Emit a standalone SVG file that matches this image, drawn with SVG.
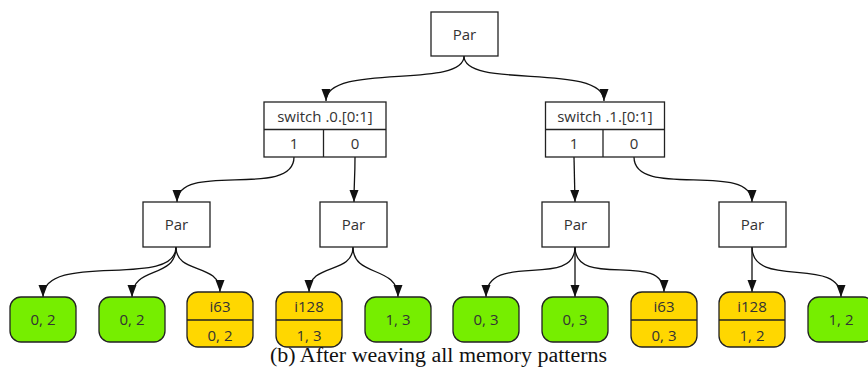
<svg xmlns="http://www.w3.org/2000/svg" width="868" height="370" viewBox="0 0 868 370">
<style>
.box{fill:#fff;stroke:#222;stroke-width:1.3}
.g{fill:#76ee00;stroke:#222;stroke-width:1.3}
.y{fill:#ffd700;stroke:#222;stroke-width:1.3}
.ln{stroke:#222;stroke-width:1.3;fill:none}
.t{font-family:"Open Sans","Liberation Sans",sans-serif;font-size:15px;fill:#333;text-anchor:middle}
.e{fill:none;stroke:#111;stroke-width:1.3;marker-end:url(#ah)}
.cap{font-family:"Liberation Serif",serif;font-size:20px;fill:#111}
</style>
<defs>
<marker id="ah" markerUnits="userSpaceOnUse" markerWidth="13" markerHeight="10" refX="12" refY="4.5" orient="auto">
<path d="M0,0 L12,4.5 L0,9 z" fill="#111"/>
</marker>
</defs>
<g id="connectors">
<path class="e" d="M464,56 C464,90 326,62 326,101"/>
<path class="e" d="M464,56 C464,90 604,62 604,101"/>
<path class="e" d="M294,157 C294,200 177,160 177,202"/>
<path class="e" d="M355,157 C355,180 354,180 354,202"/>
<path class="e" d="M574,157 L575,202"/>
<path class="e" d="M634,157 C634,200 752,160 752,202"/>
<path class="e" d="M176,247 C176,290 43,250 43,297"/>
<path class="e" d="M176,247 C176,280 132,265 132,297"/>
<path class="e" d="M176,247 C176,275 220,262 220,292"/>
<path class="e" d="M353,247 C353,275 309,262 309,292"/>
<path class="e" d="M353,247 C353,278 398,265 398,297"/>
<path class="e" d="M575,247 C575,290 486,250 486,297"/>
<path class="e" d="M575,247 L575,297"/>
<path class="e" d="M575,247 C575,290 664,250 664,292"/>
<path class="e" d="M752,247 L752,292"/>
<path class="e" d="M752,247 C752,290 841,255 841,297"/>
</g>
<g id="par_top"><rect class="box" x="431" y="12" width="67" height="44"/><text class="t" x="464.5" y="39.5">Par</text></g>
<g id="switch0">
<rect class="box" x="264" y="102" width="122" height="55"/>
<line class="ln" x1="264" y1="129.5" x2="386" y2="129.5"/>
<line class="ln" x1="323.5" y1="129.5" x2="323.5" y2="157"/>
<text class="t" x="325" y="121.5">switch .0.[0:1]</text>
<text class="t" x="294" y="149">1</text>
<text class="t" x="355" y="149">0</text>
</g>
<g id="switch1">
<rect class="box" x="545.5" y="102" width="119" height="55"/>
<line class="ln" x1="545.5" y1="129.5" x2="664.5" y2="129.5"/>
<line class="ln" x1="603" y1="129.5" x2="603" y2="157"/>
<text class="t" x="605" y="121.5">switch .1.[0:1]</text>
<text class="t" x="574" y="149">1</text>
<text class="t" x="634" y="149">0</text>
</g>
<g id="par1"><rect class="box" x="143" y="202" width="67" height="45"/><text class="t" x="176.5" y="230">Par</text></g>
<g id="par2"><rect class="box" x="320" y="202" width="67" height="45"/><text class="t" x="353.5" y="230">Par</text></g>
<g id="par3"><rect class="box" x="542" y="202" width="67" height="45"/><text class="t" x="575.5" y="230">Par</text></g>
<g id="par4"><rect class="box" x="719" y="202" width="67" height="45"/><text class="t" x="752.5" y="230">Par</text></g>
<g id="leaf1"><rect class="g" x="10" y="297" width="66" height="45" rx="11"/><text class="t" x="43" y="325">0, 2</text></g>
<g id="leaf2"><rect class="g" x="99" y="297" width="66" height="45" rx="11"/><text class="t" x="132" y="325">0, 2</text></g>
<g id="leaf3"><rect class="y" x="187" y="292" width="66" height="55" rx="11"/><line class="ln" x1="187" y1="320" x2="253" y2="320"/><text class="t" x="220" y="312">i63</text><text class="t" x="220" y="340.5">0, 2</text></g>
<g id="leaf4"><rect class="y" x="276" y="292" width="66" height="55" rx="11"/><line class="ln" x1="276" y1="320" x2="342" y2="320"/><text class="t" x="309" y="312">i128</text><text class="t" x="309" y="340.5">1, 3</text></g>
<g id="leaf5"><rect class="g" x="365" y="297" width="66" height="45" rx="11"/><text class="t" x="398" y="325">1, 3</text></g>
<g id="leaf6"><rect class="g" x="453" y="297" width="66" height="45" rx="11"/><text class="t" x="486" y="325">0, 3</text></g>
<g id="leaf7"><rect class="g" x="542" y="297" width="66" height="45" rx="11"/><text class="t" x="575" y="325">0, 3</text></g>
<g id="leaf8"><rect class="y" x="631" y="292" width="66" height="55" rx="11"/><line class="ln" x1="631" y1="320" x2="697" y2="320"/><text class="t" x="664" y="312">i63</text><text class="t" x="664" y="340.5">0, 3</text></g>
<g id="leaf9"><rect class="y" x="719" y="292" width="66" height="55" rx="11"/><line class="ln" x1="719" y1="320" x2="785" y2="320"/><text class="t" x="752" y="312">i128</text><text class="t" x="752" y="340.5">1, 2</text></g>
<g id="leaf10"><rect class="g" x="808" y="297" width="66" height="45" rx="11"/><text class="t" x="841" y="325">1, 2</text></g>
<text class="cap" x="270" y="362" textLength="337" lengthAdjust="spacingAndGlyphs">(b) After weaving all memory patterns</text>
</svg>
